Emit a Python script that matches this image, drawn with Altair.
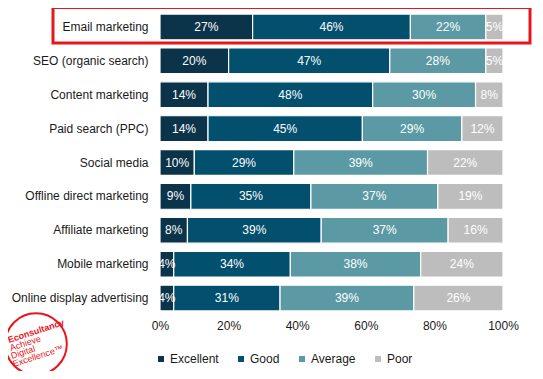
import altair as alt
import pandas as pd

channels = ["Email marketing", "SEO (organic search)", "Content marketing",
            "Paid search (PPC)", "Social media", "Offline direct marketing",
            "Affiliate marketing", "Mobile marketing", "Online display advertising"]
ratings = ["Excellent", "Good", "Average", "Poor"]
excellent = [27, 20, 14, 14, 10, 9, 8, 4, 4]
good = [46, 47, 48, 45, 29, 35, 39, 34, 31]
average = [22, 28, 30, 29, 39, 37, 37, 38, 39]
poor = [5, 5, 8, 12, 22, 19, 16, 24, 26]
colors = ["#0b3349", "#034f6e", "#5b9aa4", "#bdbdbd"]

rows = []
for i, ch in enumerate(channels):
    for j, (r, vals) in enumerate(zip(ratings, [excellent, good, average, poor])):
        rows.append({"channel": ch, "rating": r, "order": j, "value": vals[i]})
df = pd.DataFrame(rows)

FONT = "Liberation Sans"
FS = 12

base = alt.Chart(df).transform_stack(
    stack="value", as_=["x0", "x1"], groupby=["channel"],
    sort=[alt.SortField("order", order="ascending")], offset="normalize"
).transform_calculate(mid="(datum.x0 + datum.x1) / 2", label="datum.value + '%'")

yenc = alt.Y("channel:N", sort=channels, title=None,
             scale=alt.Scale(paddingInner=0.24, paddingOuter=0.12),
             axis=alt.Axis(ticks=False, domain=False, labelFontSize=FS, labelFont=FONT,
                           labelColor="#1a1a1a", labelPadding=12, labelLimit=200))

bars = base.mark_bar(stroke="white", strokeWidth=1.2).encode(
    x=alt.X("x0:Q", title=None, scale=alt.Scale(domain=[0, 1], nice=False),
            axis=alt.Axis(format=".0%", values=[0, 0.2, 0.4, 0.6, 0.8, 1.0], ticks=False,
                          domain=False, grid=False, labelFontSize=FS, labelFont=FONT,
                          labelColor="#1a1a1a", labelPadding=5, labelFlush=False)),
    x2="x1:Q",
    y=yenc,
    color=alt.Color("rating:N", sort=ratings,
                    scale=alt.Scale(domain=ratings, range=colors),
                    legend=alt.Legend(title=None, orient="none", direction="horizontal",
                                      legendX=-5, legendY=343, symbolType="square",
                                      symbolSize=36, symbolStrokeWidth=0,
                                      labelFontSize=FS, labelFont=FONT, labelColor="#1a1a1a",
                                      columnPadding=16, labelOffset=3)),
)

texts = base.mark_text(color="white", fontSize=FS, font=FONT).encode(
    x="mid:Q", y=alt.Y("channel:N", sort=channels), text="label:N"
)

box = alt.Chart(pd.DataFrame({"a": [0]})).mark_rect(
    filled=False, stroke="#e8161b", strokeWidth=3
).encode(x=alt.value(-107), x2=alt.value(370), y=alt.value(-2.5), y2=alt.value(33))

logo_circle = alt.Chart(pd.DataFrame({"a": [0]})).mark_point(
    shape="circle", size=3800, filled=False, stroke="#e8161b", strokeWidth=2, opacity=1
).encode(x=alt.value(-124), y=alt.value(334))

logo_text1 = alt.Chart(pd.DataFrame({"t": ["Econsultancy"]})).mark_text(
    color="#e8161b", fontSize=9, fontWeight="bold", font=FONT, angle=342,
    align="left", baseline="alphabetic"
).encode(x=alt.value(-151), y=alt.value(333), text="t:N")

logo_text2 = alt.Chart(pd.DataFrame({"t": ["Achieve", "Digital", "Excellence\u2122"],
                                     "xx": [-149, -148, -146],
                                     "yy": [341, 349, 357]})).mark_text(
    color="#e8161b", fontSize=9, font=FONT, angle=342, align="left", baseline="alphabetic"
).encode(x=alt.X("xx:Q", scale=None), y=alt.Y("yy:Q", scale=None), text="t:N")

chart = alt.layer(bars, texts, box, logo_circle, logo_text1, logo_text2).properties(
    width=343, height=305,
    autosize="none",
    padding={"left": 152, "top": 2, "right": 32, "bottom": 56},
).configure_view(stroke=None)

chart.save("out.html", embed_options={"renderer": "svg", "actions": False})
